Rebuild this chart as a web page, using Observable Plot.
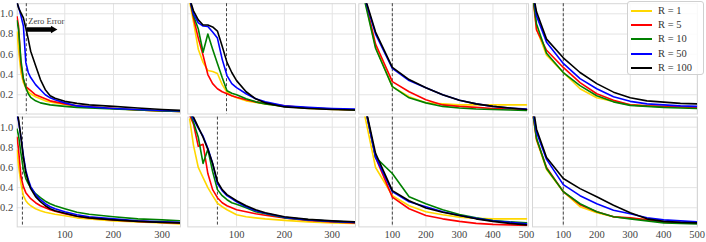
<!DOCTYPE html>
<html><head><meta charset="utf-8">
<script src="https://cdn.jsdelivr.net/npm/d3@7"></script>
<script src="https://cdn.jsdelivr.net/npm/@observablehq/plot@0.6"></script>
<style>
html,body{margin:0;padding:0;background:#fff;}
#fig{position:relative;width:706px;height:242px;overflow:hidden;font-family:"Liberation Serif",serif;}
#fig svg{position:absolute;left:0;top:0;}
#legend{position:absolute;left:627px;top:1px;width:77px;height:74px;box-sizing:border-box;border:1px solid #d0d0d0;border-radius:3px;background:rgba(255,255,255,0.85);}
#legend .item{position:absolute;left:0;height:14px;width:76px;}
#legend .sw{position:absolute;left:3px;top:6px;width:21px;height:2px;}
#legend .lb{position:absolute;left:30px;top:0;font-size:10.5px;line-height:14px;color:#333;white-space:nowrap;}
</style></head><body><div id="fig"></div>
<script>
// ---- data ----
const seriesNames = ["R = 1", "R = 5", "R = 10", "R = 50", "R = 100"];
const seriesColors = ["#FFD700", "#FF0000", "#008000", "#0000FF", "#000000"];

const xFineA = [2,5,10,15,20,25,30,40,50,60,70,80,100,125,150,200,250,300,338];
const xFineB = [2,10,20,30,40,50,60,70,80,90,100,120,140,160,200,250,300,348];
const xCoarseA = [0,50,100,150,200,250,300,350,400,450,500];
const xCoarseB = [10,20,50,100,150,200,250,300,350,400,450,500];

const xTicksShort = [100,200,300];
const xTicksLong = [100,200,300,400,500];
const yTicks = [0.2,0.4,0.6,0.8,1.0];

// zero-error positions (x value of dashed line) per panel
const zeroErrorX = [21, 79, 100, 100, 13, 60, 100, 100];
const annotationText = ["Zero Error"];
const arrowX = [21.5, 72];
const arrowHeadX = [76];
const arrowY = [0.845];
const annotationY = [0.93];

// panel values: order R=1, R=5, R=10, R=50, R=100
const panel1Y = [
  [0.82,0.65,0.42,0.32,0.27,0.23,0.21,0.18,0.16,0.14,0.13,0.12,0.105,0.09,0.08,0.065,0.05,0.04,0.035],
  [0.97,0.88,0.50,0.35,0.28,0.26,0.24,0.20,0.18,0.16,0.14,0.13,0.11,0.09,0.08,0.065,0.05,0.04,0.035],
  [0.93,0.85,0.54,0.36,0.27,0.21,0.175,0.14,0.12,0.11,0.10,0.095,0.085,0.075,0.07,0.06,0.05,0.04,0.035],
  [1.10,1.07,0.98,0.88,0.52,0.42,0.37,0.30,0.25,0.20,0.17,0.15,0.12,0.09,0.08,0.065,0.055,0.045,0.04],
  [1.12,1.06,1.01,0.96,0.86,0.75,0.63,0.49,0.35,0.25,0.19,0.165,0.135,0.115,0.10,0.085,0.07,0.055,0.045]
];
const panel2Y = [
  [1.12,0.92,0.65,0.52,0.44,0.43,0.41,0.30,0.225,0.19,0.17,0.14,0.125,0.11,0.085,0.065,0.055,0.05],
  [1.15,0.96,0.76,0.59,0.40,0.31,0.26,0.23,0.21,0.19,0.175,0.15,0.13,0.115,0.09,0.07,0.06,0.05],
  [1.15,0.98,0.85,0.62,0.80,0.65,0.51,0.37,0.24,0.215,0.20,0.16,0.13,0.11,0.085,0.07,0.06,0.05],
  [1.15,1.00,0.91,0.88,0.875,0.82,0.76,0.55,0.39,0.31,0.27,0.21,0.16,0.13,0.09,0.075,0.065,0.06],
  [1.15,1.03,0.94,0.89,0.89,0.87,0.83,0.68,0.52,0.42,0.34,0.23,0.16,0.12,0.08,0.065,0.055,0.05]
];
const panel3Y = [
  [1.40,0.67,0.28,0.18,0.12,0.11,0.10,0.10,0.10,0.10,0.10],
  [1.40,0.70,0.33,0.23,0.15,0.10,0.085,0.075,0.065,0.06,0.055],
  [1.38,0.66,0.28,0.17,0.12,0.085,0.07,0.06,0.055,0.05,0.045],
  [1.35,0.80,0.46,0.34,0.27,0.20,0.145,0.11,0.085,0.07,0.06],
  [1.36,0.82,0.47,0.35,0.27,0.20,0.145,0.11,0.085,0.07,0.055]
];
const panel4Y = [
  [1.15,0.85,0.59,0.42,0.26,0.17,0.135,0.10,0.09,0.08,0.077,0.075],
  [1.15,0.84,0.64,0.47,0.32,0.21,0.145,0.10,0.09,0.085,0.08,0.075],
  [1.15,0.90,0.61,0.42,0.29,0.19,0.13,0.095,0.085,0.075,0.07,0.065],
  [1.20,0.98,0.72,0.51,0.36,0.26,0.18,0.135,0.11,0.10,0.09,0.085],
  [1.20,1.02,0.75,0.565,0.42,0.31,0.226,0.17,0.14,0.127,0.115,0.11]
];
const panel5Y = [
  [0.77,0.62,0.44,0.32,0.27,0.24,0.22,0.19,0.17,0.155,0.145,0.135,0.12,0.10,0.09,0.07,0.058,0.05,0.04],
  [0.90,0.78,0.51,0.41,0.35,0.32,0.29,0.25,0.22,0.20,0.18,0.165,0.14,0.115,0.10,0.08,0.065,0.055,0.05],
  [0.98,0.92,0.74,0.58,0.49,0.44,0.40,0.34,0.30,0.265,0.24,0.22,0.19,0.155,0.135,0.11,0.09,0.08,0.07],
  [1.12,1.06,0.90,0.72,0.57,0.48,0.41,0.33,0.28,0.24,0.21,0.19,0.16,0.13,0.11,0.09,0.07,0.06,0.055],
  [1.15,1.08,0.90,0.70,0.55,0.46,0.39,0.31,0.26,0.22,0.19,0.17,0.145,0.115,0.10,0.08,0.065,0.055,0.05]
];
const panel6Y = [
  [1.08,0.82,0.60,0.50,0.40,0.32,0.245,0.21,0.18,0.155,0.13,0.11,0.10,0.09,0.075,0.06,0.05,0.045],
  [1.12,1.03,0.81,0.83,0.54,0.38,0.30,0.25,0.22,0.20,0.18,0.16,0.14,0.125,0.10,0.075,0.06,0.05],
  [1.15,1.05,0.90,0.64,0.78,0.56,0.38,0.32,0.28,0.25,0.235,0.20,0.16,0.14,0.10,0.08,0.065,0.055],
  [1.15,1.08,0.99,0.91,0.79,0.64,0.44,0.37,0.32,0.29,0.26,0.21,0.17,0.145,0.105,0.08,0.065,0.055],
  [1.15,1.10,1.00,0.90,0.78,0.64,0.46,0.38,0.33,0.30,0.27,0.22,0.18,0.15,0.11,0.085,0.07,0.06]
];
const panel7Y = [
  [1.40,0.60,0.32,0.22,0.16,0.13,0.107,0.095,0.09,0.09,0.09],
  [1.50,0.70,0.305,0.19,0.124,0.09,0.065,0.045,0.035,0.03,0.025],
  [1.50,0.70,0.54,0.31,0.24,0.18,0.133,0.10,0.074,0.06,0.05],
  [1.50,0.70,0.36,0.26,0.21,0.16,0.124,0.095,0.07,0.055,0.04],
  [1.50,0.74,0.37,0.27,0.197,0.155,0.124,0.09,0.065,0.045,0.03]
];
const panel8Y = [
  [1.12,0.87,0.58,0.36,0.21,0.15,0.11,0.095,0.08,0.06,0.055,0.05],
  [1.12,0.88,0.60,0.36,0.23,0.16,0.11,0.10,0.08,0.057,0.052,0.05],
  [1.12,0.89,0.59,0.36,0.24,0.16,0.11,0.09,0.07,0.05,0.045,0.04],
  [1.15,0.95,0.68,0.43,0.32,0.24,0.175,0.14,0.10,0.08,0.07,0.06],
  [1.20,0.98,0.70,0.49,0.39,0.31,0.225,0.15,0.09,0.065,0.055,0.05]
];

// ---- layout ----
const W = 706, H = 242;
const rowTop = [{t: 3.2, b: 113.5}, {t: 116.6, b: 226.4}];
const colBox = [
  {l: 16.7, r: 180, xd: [2.3, 337.6], ticks: xTicksShort},
  {l: 187.3, r: 355, xd: [-1.9, 348.6], ticks: xTicksShort},
  {l: 358.3, r: 528, xd: [0, 506], ticks: xTicksLong},
  {l: 532, r: 697, xd: [8, 501], ticks: xTicksLong}
];
const panels = [
  {xs: xFineA, ys: panel1Y}, {xs: xFineB, ys: panel2Y}, {xs: xCoarseA, ys: panel3Y}, {xs: xCoarseB, ys: panel4Y},
  {xs: xFineA, ys: panel5Y}, {xs: xFineB, ys: panel6Y}, {xs: xCoarseA, ys: panel7Y}, {xs: xCoarseB, ys: panel8Y}
];
const fig = document.getElementById("fig");
const font = "Liberation Serif, serif";

panels.forEach((p, i) => {
  const row = Math.floor(i / 4), col = i % 4;
  const R = rowTop[row], C = colBox[col];
  const rows = [];
  seriesNames.forEach((name, s) => p.xs.forEach((x, k) => rows.push({x, y: p.ys[s][k], R: name})));
  const marks = [
    Plot.gridX(C.ticks, {stroke: "#e4e4e4", strokeOpacity: 1, strokeWidth: 1}),
    Plot.gridY(yTicks, {stroke: "#e4e4e4", strokeOpacity: 1, strokeWidth: 1}),
    Plot.frame({stroke: "#d6d6d6", strokeWidth: 1}),
    Plot.ruleX([zeroErrorX[i]], {stroke: "#444", strokeWidth: 1, strokeDasharray: "3,2"}),
    Plot.line(rows, {x: "x", y: "y", z: "R", stroke: "R", strokeWidth: 1.6, clip: true})
  ];
  if (col === 0) {
    marks.push(Plot.axisY({ticks: yTicks, tickSize: 0, tickPadding: 4, tickFormat: d3.format(".1f"), fontSize: 10.5, fill: "#444", label: null}));
  }
  if (row === 1) {
    marks.push(Plot.axisX({ticks: C.ticks, tickSize: 0, tickPadding: 4, tickFormat: d3.format("d"), fontSize: 10.5, fill: "#444", label: null}));
  }
  if (i === 0) {
    marks.push(Plot.text(annotationText, {x: () => zeroErrorX[0], y: () => annotationY[0], dx: 2, textAnchor: "start", fontSize: 8.5, fill: "#444"}));
    marks.push(Plot.link([0], {x1: () => arrowX[0], x2: () => arrowX[1], y1: () => arrowY[0], y2: () => arrowY[0], stroke: "#000", strokeWidth: 4.5}));
    marks.push(Plot.dot([0], {x: () => arrowHeadX[0], y: () => arrowY[0], symbol: "triangle2", r: 3.6, rotate: 90, fill: "#000", stroke: "none"}));
  }
  const svg = Plot.plot({
    width: W, height: H,
    marginLeft: C.l, marginRight: W - C.r, marginTop: R.t, marginBottom: H - R.b,
    x: {domain: C.xd, axis: null},
    y: {domain: [0.01, 1.1], axis: null},
    color: {domain: seriesNames, range: seriesColors},
    style: {background: "transparent", overflow: "visible", fontFamily: font},
    marks
  });
  fig.appendChild(svg);
});

// legend
const leg = document.createElement("div");
leg.id = "legend";
seriesNames.forEach((name, s) => {
  const it = document.createElement("div");
  it.className = "item";
  it.style.top = (2 + s * 14.2) + "px";
  const sw = document.createElement("div");
  sw.className = "sw";
  sw.style.background = seriesColors[s];
  const lb = document.createElement("div");
  lb.className = "lb";
  lb.textContent = name;
  it.appendChild(sw); it.appendChild(lb);
  leg.appendChild(it);
});
fig.appendChild(leg);
</script>
</body></html>
